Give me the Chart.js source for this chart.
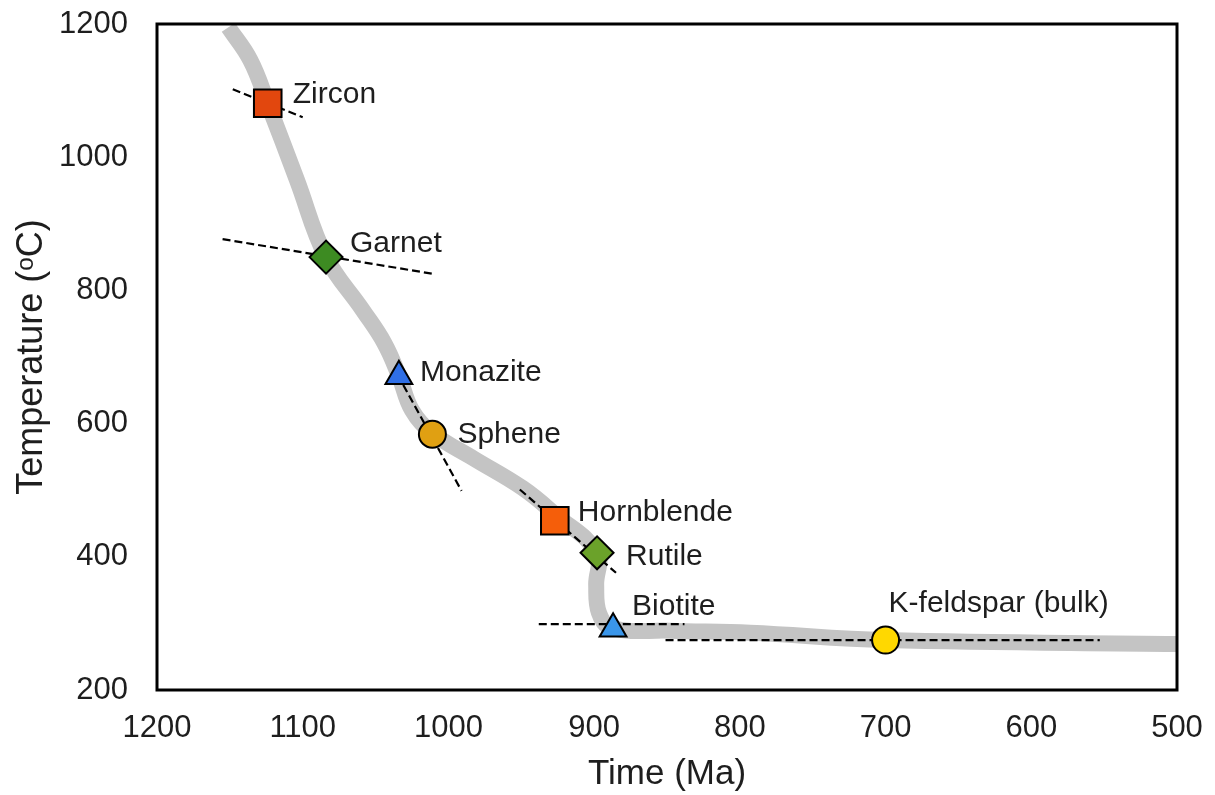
<!DOCTYPE html>
<html>
<head>
<meta charset="utf-8">
<script src="https://cdn.jsdelivr.net/npm/chart.js@4.4.1/dist/chart.umd.min.js"></script>
<style>
    body { margin: 0; background: #fff; }
</style>
</head>
<body>
<canvas id="coolingChart" width="1215" height="795"></canvas>
<script>
// Mineral closure points (age in Ma, temperature in oC)
const minerals = ['Zircon', 'Garnet', 'Monazite', 'Sphene', 'Hornblende', 'Rutile', 'Biotite', 'K-feldspar (bulk)'];
const ageMa = [1124, 1084, 1034, 1011, 927, 898, 887, 700];
const tempC = [1081, 850, 671, 584, 454, 406, 292, 275];

// Grey cooling path
const pathAgeMa = [1151, 1136, 1124, 1104, 1084, 1059, 1044, 1034, 1025, 1011, 983, 949, 927, 898, 898.6, 896.7, 888, 848, 793, 700, 500];
const pathTempC = [1195, 1146, 1081, 966, 850, 771, 721, 672, 620, 586, 548, 503, 464, 406, 358, 316, 293, 289, 286, 275, 269];

// Dashed closure-temperature slopes
const dashFromAge = [1148, 1155, 1031, 951, 938, 851];
const dashFromTemp = [1102, 877, 658, 501, 299, 275];
const dashToAge = [1100, 1011, 991, 885, 838, 553];
const dashToTemp = [1060, 825, 499, 376, 299, 275];

// Axis ticks
const xTicks = [1200, 1100, 1000, 900, 800, 700, 600, 500];
const yTicks = [200, 400, 600, 800, 1000, 1200];

const FONT = 'Liberation Sans, Arial, sans-serif';
const TEXT_COLOR = '#1e1e1e';

const markerStyles = {
    'Zircon': { shape: 'rect', color: '#E2470E', size: 19.5 },
    'Garnet': { shape: 'rectRot', color: '#3D8B22', size: 16.5 },
    'Monazite': { shape: 'triangle', color: '#2F6FE6', size: 15.5 },
    'Sphene': { shape: 'circle', color: '#E0A012', size: 13.5 },
    'Hornblende': { shape: 'rect', color: '#F55E0A', size: 19.5 },
    'Rutile': { shape: 'rectRot', color: '#6BA22A', size: 16.5 },
    'Biotite': { shape: 'triangle', color: '#3A96EA', size: 15.5 },
    'K-feldspar (bulk)': { shape: 'circle', color: '#FFD800', size: 13.5 }
};

// pixel offsets of the label from its marker
const labelOffsets = {
    'Zircon': [25, -9],
    'Garnet': [24, -13],
    'Monazite': [21, -4],
    'Sphene': [25, 0],
    'Hornblende': [23, -8],
    'Rutile': [29, 4],
    'Biotite': [19, -22],
    'K-feldspar (bulk)': [3, -36]
};

const markerPoints = ageMa.map((a, i) => ({ x: a, y: tempC[i] }));
const pathPoints = pathAgeMa.map((a, i) => ({ x: a, y: pathTempC[i] }));

const dashDatasets = dashFromAge.map((a, i) => ({
    type: 'line',
    data: [{ x: a, y: dashFromTemp[i] }, { x: dashToAge[i], y: dashToTemp[i] }],
    borderColor: '#000',
    borderWidth: 2.2,
    borderDash: [8, 4],
    pointRadius: 0,
    fill: false,
    order: 1
}));

const labelPlugin = {
    id: 'labelPlugin',
    afterDatasetsDraw(chart) {
        const ctx = chart.ctx;
        const xs = chart.scales.x;
        const ys = chart.scales.y;
        ctx.save();
        ctx.font = '30px ' + FONT;
        ctx.fillStyle = TEXT_COLOR;
        ctx.textAlign = 'left';
        ctx.textBaseline = 'middle';
        minerals.forEach((name, i) => {
            const off = labelOffsets[name];
            ctx.fillText(name, xs.getPixelForValue(ageMa[i]) + off[0], ys.getPixelForValue(tempC[i]) + off[1]);
        });
        ctx.restore();
    }
};

const boxPlugin = {
    id: 'boxPlugin',
    afterDraw(chart) {
        const { left, top, right, bottom } = chart.chartArea;
        const ctx = chart.ctx;
        ctx.save();
        ctx.strokeStyle = '#000';
        ctx.lineWidth = 3;
        ctx.strokeRect(left, top, right - left, bottom - top);
        ctx.restore();
    }
};

// keep the plot box where the reference has it
function noEdgePadding(scale) {
    scale.paddingTop = 0;
    scale.paddingBottom = 0;
    scale.paddingLeft = 0;
    scale.paddingRight = 0;
}

const ctx = document.getElementById('coolingChart').getContext('2d');
new Chart(ctx, {
    type: 'scatter',
    data: {
        datasets: [
            {
                type: 'scatter',
                data: markerPoints,
                pointStyle: minerals.map(m => markerStyles[m].shape),
                pointRadius: minerals.map(m => markerStyles[m].size),
                backgroundColor: minerals.map(m => markerStyles[m].color),
                borderColor: '#000',
                borderWidth: 2,
                order: 0
            },
            ...dashDatasets,
            {
                type: 'line',
                data: pathPoints,
                borderColor: '#C4C4C4',
                borderWidth: 16,
                borderCapStyle: 'butt',
                borderJoinStyle: 'round',
                tension: 0.4,
                pointRadius: 0,
                fill: false,
                order: 2
            }
        ]
    },
    options: {
        responsive: false,
        animation: false,
        layout: {
            padding: { top: 24, right: 38, left: 0, bottom: 0 }
        },
        scales: {
            x: {
                type: 'linear',
                reverse: true,
                min: 500,
                max: 1200,
                afterBuildTicks: (scale) => { scale.ticks = xTicks.map(v => ({ value: v })); },
                afterFit: (scale) => { scale.height = 105; noEdgePadding(scale); },
                grid: { display: false, drawTicks: false },
                border: { display: false },
                ticks: {
                    padding: 20,
                    color: TEXT_COLOR,
                    font: { family: FONT, size: 31 },
                    maxRotation: 0,
                    callback: (v) => String(v)
                },
                title: {
                    display: true,
                    text: 'Time (Ma)',
                    color: TEXT_COLOR,
                    font: { family: FONT, size: 35 },
                    padding: { top: 0, bottom: 0 }
                }
            },
            y: {
                type: 'linear',
                min: 200,
                max: 1200,
                afterBuildTicks: (scale) => { scale.ticks = yTicks.map(v => ({ value: v })); },
                afterFit: (scale) => { scale.width = 157; noEdgePadding(scale); },
                grid: { display: false, drawTicks: false },
                border: { display: false },
                ticks: {
                    padding: 29,
                    color: TEXT_COLOR,
                    font: { family: FONT, size: 31 },
                    callback: (v) => String(v)
                },
                title: {
                    display: true,
                    text: 'Temperature (ᵒC)',
                    color: TEXT_COLOR,
                    font: { family: FONT, size: 36 },
                    padding: { top: 10, bottom: 0 }
                }
            }
        },
        plugins: {
            legend: { display: false },
            tooltip: { enabled: false }
        }
    },
    plugins: [labelPlugin, boxPlugin]
});
</script>
</body>
</html>
